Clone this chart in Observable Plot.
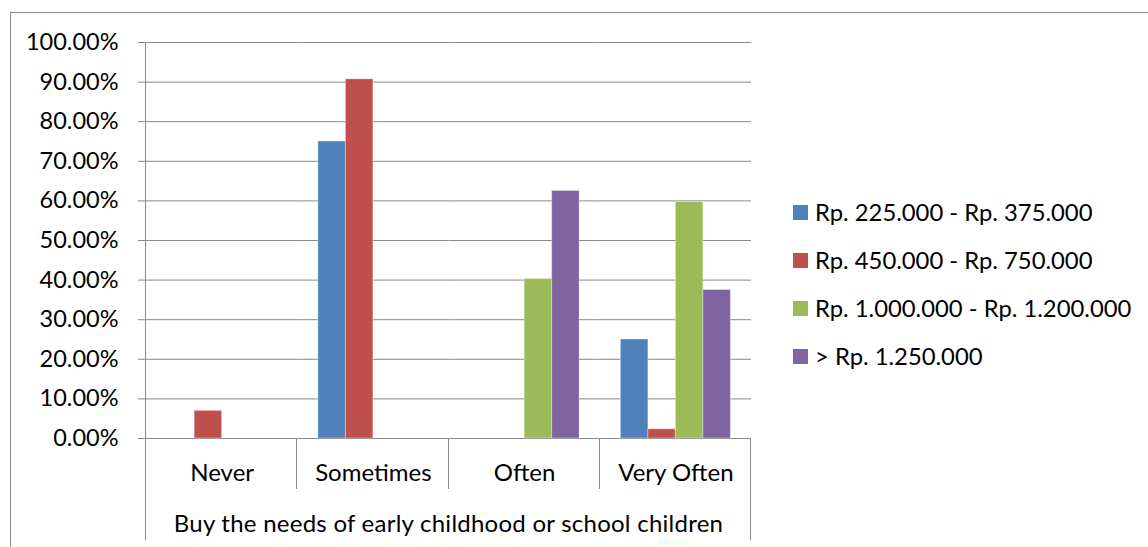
<!DOCTYPE html>
<html>
<head>
<meta charset="utf-8">
<script src="https://cdn.jsdelivr.net/npm/d3@7"></script>
<script src="https://cdn.jsdelivr.net/npm/@observablehq/plot@0.6"></script>
<style>
  html, body { margin: 0; padding: 0; background: #fff; overflow: hidden; width: 1148px; height: 547px; }
  #wrap { position: relative; width: 1148px; height: 547px; font-family: Lato, sans-serif; }
  #border { position: absolute; left: 10px; top: 12px; width: 1300px; height: 700px; border: 1px solid #8a8a8a; box-sizing: border-box; }
  #chart { position: absolute; left: 0; top: 0; }
  #legend { position: absolute; left: 793px; top: 188px; }
  .row { display: flex; align-items: center; height: 48px; font-size: 23.8px; color: #000; white-space: nowrap; }
  .sw { width: 15px; height: 15px; margin-right: 7px; flex: none; }
</style>
</head>
<body>
<div id="wrap">
  <div id="border"></div>
  <div id="chart"></div>
  <div id="legend"></div>
</div>
<script>
// Response categories (x groups)
const categories = ["Never", "Sometimes", "Often", "Very Often"];

// Income brackets (series)
const series = [
  "Rp. 225.000 - Rp. 375.000",
  "Rp. 450.000 - Rp. 750.000",
  "Rp. 1.000.000 - Rp. 1.200.000",
  "> Rp. 1.250.000"
];
const colors = ["#4F81BD", "#C0504D", "#9BBB59", "#8064A2"];

// Share of respondents per category, one array per income bracket
const bracketLow     = [0,      0.75,   0,     0.25];
const bracketLowMid  = [0.0698, 0.907,  0,     0.0233];
const bracketHighMid = [0,      0,      0.403, 0.597];
const bracketHigh    = [0,      0,      0.625, 0.375];

// Value-axis ticks
const yTicks = [0, 0.1, 0.2, 0.3, 0.4, 0.5, 0.6, 0.7, 0.8, 0.9, 1];

const axisTitle = "Buy the needs of early childhood or school children";

(function draw() {
  const valuesBySeries = [bracketLow, bracketLowMid, bracketHighMid, bracketHigh];
  const rows = [];
  categories.forEach((c, i) => {
    series.forEach((s, j) => {
      const v = valuesBySeries[j][i];
      if (v > 0) rows.push({category: c, series: s, value: v});
    });
  });

  const W = 1148, H = 547;
  const fontSize = 24;
  const lineColor = "#898989";

  const chart = Plot.plot({
    width: W,
    height: H,
    marginLeft: 146,
    marginRight: 397,
    marginTop: 42,
    marginBottom: 109,
    style: {fontFamily: "Lato, sans-serif", fontSize: fontSize + "px", background: "transparent", color: "#000"},
    fx: {domain: categories, padding: 0, round: false, axis: null},
    x: {domain: series, paddingInner: 0, paddingOuter: 0.75, round: false, axis: null},
    y: {domain: [0, 1], axis: null},
    color: {domain: series, range: colors},
    marks: [
      Plot.gridY(yTicks, {stroke: lineColor, strokeOpacity: 1}),
      Plot.barY(rows, {
        fx: "category", x: "series", y: "value", fill: "series",
        stroke: "#fff", strokeOpacity: 0.35, strokeWidth: 1
      }),
      Plot.axisY(yTicks, {
        tickFormat: d3.format(".2%"), tickSize: 8, tickPadding: 20,
        stroke: lineColor, fontSize: 23.5, label: null
      }),
      Plot.axisFx({anchor: "bottom", tickSize: 0, tickPadding: 25, fontSize, label: null})
    ]
  });

  document.getElementById("chart").appendChild(chart);

  // Category separators, outer axis lines and the axis title, placed from the scales
  const fx = chart.scale("fx");
  const y = chart.scale("y");
  const [xLeft, xRight] = fx.range;
  const yBase = y.apply(0);
  const yTop = y.apply(1);
  const g = d3.select(chart).append("g")
    .attr("stroke", lineColor)
    .attr("stroke-width", 1)
    .attr("shape-rendering", "crispEdges");

  // left value axis, continuing down through the category rows
  g.append("line").attr("x1", xLeft - 0.5).attr("x2", xLeft - 0.5).attr("y1", yTop).attr("y2", H - 7);
  // right outer edge of the category rows
  g.append("line").attr("x1", xRight - 0.5).attr("x2", xRight - 0.5).attr("y1", yBase).attr("y2", H - 7);
  // dividers between category labels
  categories.slice(1).forEach(c => {
    const xb = Math.round(fx.apply(c)) - 0.5;
    g.append("line").attr("x1", xb).attr("x2", xb).attr("y1", yBase).attr("y2", yBase + 51);
  });

  d3.select(chart).append("text")
    .attr("x", (xLeft + xRight) / 2)
    .attr("y", yBase + 94)
    .attr("text-anchor", "middle")
    .attr("fill", "#000")
    .attr("font-size", fontSize)
    .attr("letter-spacing", "0.25px")
    .text(axisTitle);

  // Legend
  const legend = d3.select("#legend");
  series.forEach((s, i) => {
    const row = legend.append("div").attr("class", "row");
    row.append("div").attr("class", "sw").style("background", colors[i]);
    row.append("span").text(s);
  });
})();
</script>
</body>
</html>
